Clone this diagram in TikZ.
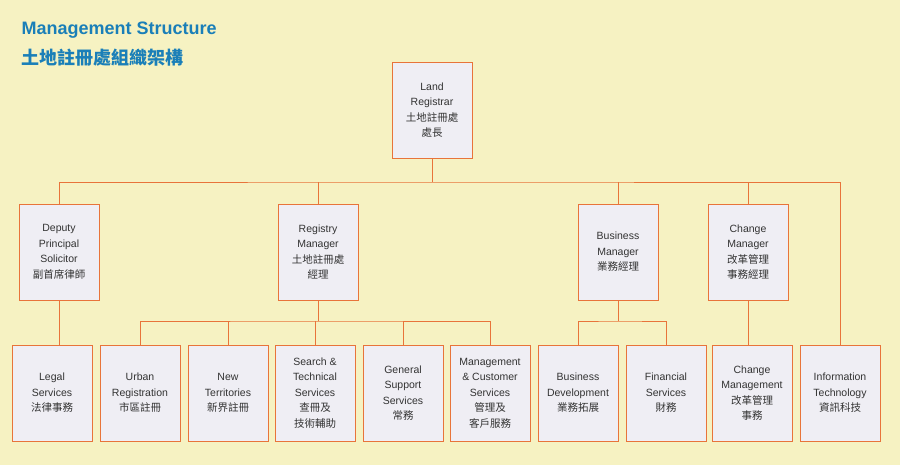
\documentclass[tikz,border=0pt]{standalone}
\usepackage{fontspec}
\setmainfont{Liberation Sans}
\newfontfamily\cjk{Noto Sans CJK TC}
\definecolor{paper}{HTML}{F6F2C2}
\definecolor{boxfill}{HTML}{EFEEF4}
\definecolor{rule}{HTML}{E8743A}
\definecolor{titleblue}{HTML}{1A7FB8}
\begin{document}
\begin{tikzpicture}[x=1pt,y=-1pt,
  unit/.style={shape=rectangle, draw=rule, fill=boxfill, line width=0.9pt,
    minimum width=80pt, minimum height=96pt, align=center, inner sep=1pt,
    font=\fontsize{10.5}{15.5}\selectfont, text=black!80},
  link/.style={draw=rule, line width=0.9pt}]
\fill[paper] (0,0) rectangle (900,465);
\useasboundingbox (0,0) rectangle (900,465);
\node [anchor=west, text=titleblue, font=\fontsize{18}{18}\bfseries\selectfont] (T1) at (18,30) {Management Structure};
\node [anchor=west, text=titleblue, font=\fontsize{18}{18}\cjk\bfseries\selectfont] (T2) at (18,58) {土地註冊處組織架構};

\node [unit] (top) at (432,110) {Land\\Registrar\\{\cjk 土地註冊處}\\{\cjk 處長}};

\node [unit] (dep) at (59,252) {Deputy\\Principal\\Solicitor\\{\cjk 副首席律師}};
\node [unit] (reg) at (318,252) {Registry\\Manager\\{\cjk 土地註冊處}\\{\cjk 經理}};
\node [unit] (bus) at (618,252) {Business\\Manager\\{\cjk 業務經理}};
\node [unit] (chg) at (748,252) {Change\\Manager\\{\cjk 改革管理}\\{\cjk 事務經理}};

\node [unit] (leg) at (52,393) {Legal\\Services\\{\cjk 法律事務}};
\node [unit] (urb) at (140,393) {Urban\\Registration\\{\cjk 市區註冊}};
\node [unit] (nt) at (228,393) {New\\Territories\\{\cjk 新界註冊}};
\node [unit] (sch) at (315,393) {Search \&\\Technical\\Services\\{\cjk 查冊及}\\{\cjk 技術輔助}};
\node [unit] (gen) at (403,393) {General\\Support\\Services\\{\cjk 常務}};
\node [unit] (mcs) at (490,393) {Management\\\& Customer\\Services\\{\cjk 管理及}\\{\cjk 客戶服務}};
\node [unit] (bdv) at (578,393) {Business\\Development\\{\cjk 業務拓展}};
\node [unit] (fin) at (666,393) {Financial\\Services\\{\cjk 財務}};
\node [unit] (cmg) at (752,393) {Change\\Management\\{\cjk 改革管理}\\{\cjk 事務}};
\node [unit] (it) at (840,393) {Information\\Technology\\{\cjk 資訊科技}};

\coordinate (j1) at (432,182);
\coordinate (j2) at (318,321);
\coordinate (j3) at (618,321);

\draw [link] (top.south) -- (j1);
\draw [link] (dep.north) |- (j1) -| (it.north);
\draw [link] (reg.north) -- (reg.north |- j1);
\draw [link] (bus.north) -- (bus.north |- j1);
\draw [link] (chg.north) -- (chg.north |- j1);
\draw [link] (dep.south) -- (dep.south |- leg.north);

\draw [link] (reg.south) -- (j2);
\draw [link] (urb.north) |- (j2) -| (mcs.north);
\draw [link] (nt.north) -- (nt.north |- j2);
\draw [link] (sch.north) -- (sch.north |- j2);
\draw [link] (gen.north) -- (gen.north |- j2);

\draw [link] (bus.south) -- (j3);
\draw [link] (bdv.north) |- (j3) -| (fin.north);
\draw [link] (chg.south) -- (chg.south |- cmg.north);
\end{tikzpicture}
\end{document}
